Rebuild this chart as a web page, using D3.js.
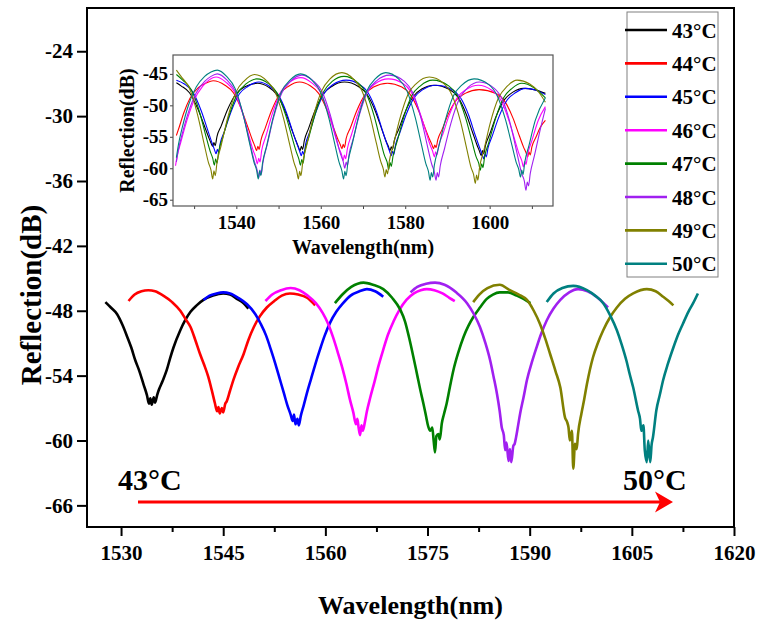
<!DOCTYPE html>
<html><head><meta charset="utf-8">
<script src="https://cdn.jsdelivr.net/npm/d3@7"></script>
<style>
body{margin:0;background:#fff}
.ax text{font-family:'Times New Roman','Liberation Serif',serif !important;font-weight:bold !important;fill:#000}
.ax.main text{font-size:21px !important}
.ax.ins text{font-size:19px !important}
</style>
</head><body>
<svg id="c" width="760" height="623"></svg>
<script>
const temps = ["43°C","44°C","45°C","46°C","47°C","48°C","49°C","50°C"];
const colors = ["#000000","#ff0000","#0000ff","#ff00ff","#008000","#a020f0","#808000","#008080"];
const xTicks = [1530,1545,1560,1575,1590,1605,1620];
const xMinor = [1537.5,1552.5,1567.5,1582.5,1597.5,1612.5];
const yTicks = [-66,-60,-54,-48,-42,-36,-30,-24];
const insetXTicks = [1540,1560,1580,1600];
const insetXMinor = [1530,1550,1570,1590,1610];
const insetYTicks = [-65,-60,-55,-50,-45];

// main panel: one excerpt of each spectrum
const main43 = [[1527.7,-47.2],[1528.5,-47.7],[1529.4,-48.3],[1530.2,-49.3],[1530.9,-50.4],[1531.5,-51.4],[1532.1,-52.6],[1532.7,-53.6],[1533.3,-54.8],[1533.8,-55.8],[1534.1,-56.6],[1534.3,-56.1],[1534.5,-56.7],[1534.8,-56.0],[1535.0,-56.5],[1535.3,-55.8],[1535.5,-55.4],[1536.1,-54.5],[1536.7,-53.5],[1537.2,-52.4],[1537.7,-51.4],[1538.7,-49.8],[1539.4,-48.9],[1540.2,-48.1],[1541.1,-47.5],[1542.1,-47.0],[1543.5,-46.6],[1545.0,-46.4],[1546.0,-46.5],[1547.0,-46.9],[1548.0,-47.3],[1548.7,-47.8]];
const main44 = [[1531.1,-47.1],[1532.0,-46.5],[1533.0,-46.2],[1534.0,-46.1],[1535.0,-46.2],[1536.2,-46.6],[1537.5,-47.2],[1538.7,-48.0],[1539.5,-48.8],[1540.2,-49.5],[1540.9,-50.7],[1541.6,-52.0],[1542.2,-53.0],[1542.8,-54.1],[1543.3,-55.3],[1543.8,-56.6],[1544.1,-57.3],[1544.3,-56.9],[1544.5,-57.5],[1544.8,-57.0],[1545.0,-57.4],[1545.3,-56.6],[1545.5,-56.4],[1546.0,-55.4],[1546.5,-54.4],[1547.2,-53.2],[1548.0,-52.0],[1548.7,-50.7],[1549.5,-49.5],[1550.4,-48.5],[1551.4,-47.7],[1552.5,-47.1],[1553.6,-46.6],[1554.8,-46.4],[1556.0,-46.5],[1557.3,-46.8],[1558.5,-47.5]];
const main45 = [[1542.1,-47.0],[1543.0,-46.6],[1544.0,-46.4],[1545.0,-46.3],[1546.0,-46.4],[1547.2,-46.8],[1548.5,-47.4],[1549.7,-48.3],[1550.5,-49.2],[1551.3,-50.3],[1552.0,-51.6],[1552.7,-53.0],[1553.3,-54.3],[1553.9,-55.6],[1554.4,-56.7],[1554.9,-57.6],[1555.2,-58.2],[1555.4,-57.6],[1555.6,-58.5],[1555.9,-58.0],[1556.1,-58.6],[1556.4,-57.7],[1556.8,-56.8],[1557.3,-55.6],[1557.9,-54.3],[1558.5,-53.0],[1559.2,-51.6],[1559.9,-50.3],[1560.7,-49.1],[1561.6,-48.1],[1562.6,-47.3],[1563.7,-46.6],[1565.0,-46.2],[1566.1,-46.0],[1567.3,-46.2],[1568.5,-46.7]];
const main46 = [[1551.2,-47.1],[1552.2,-46.5],[1553.5,-46.1],[1554.9,-45.9],[1556.2,-46.1],[1557.4,-46.6],[1558.6,-47.3],[1559.6,-48.2],[1560.4,-49.2],[1561.1,-50.4],[1561.8,-51.8],[1562.5,-53.3],[1563.1,-54.8],[1563.6,-56.2],[1564.1,-57.4],[1564.5,-58.5],[1564.7,-58.0],[1564.9,-58.9],[1565.1,-59.5],[1565.3,-58.6],[1565.5,-59.1],[1565.8,-58.3],[1566.1,-57.3],[1566.6,-56.0],[1567.2,-54.6],[1567.8,-53.1],[1568.5,-51.6],[1569.2,-50.2],[1570.0,-49.0],[1570.9,-47.9],[1571.9,-47.0],[1573.0,-46.4],[1574.0,-46.1],[1574.9,-46.0],[1576.0,-46.1],[1577.2,-46.4],[1578.2,-46.8],[1579.0,-47.1]];
const main47 = [[1561.4,-47.3],[1562.5,-46.5],[1563.8,-45.8],[1565.6,-45.4],[1567.0,-45.6],[1568.5,-46.0],[1569.8,-46.8],[1571.0,-47.9],[1571.7,-49.0],[1572.3,-50.5],[1572.9,-52.2],[1573.5,-54.0],[1574.0,-55.5],[1574.4,-56.6],[1574.8,-57.8],[1575.1,-58.7],[1575.4,-59.1],[1575.7,-58.8],[1575.9,-60.0],[1576.1,-61.1],[1576.3,-59.6],[1576.6,-59.4],[1576.8,-59.9],[1577.1,-58.4],[1577.4,-57.6],[1577.8,-56.6],[1578.3,-55.0],[1578.8,-53.5],[1579.5,-51.9],[1580.3,-50.4],[1581.0,-49.4],[1581.7,-48.6],[1582.7,-47.7],[1583.7,-46.9],[1584.6,-46.5],[1585.6,-46.3],[1586.8,-46.3],[1588.1,-46.6],[1589.1,-46.9],[1590.1,-47.3]];
const main48 = [[1572.5,-46.3],[1573.5,-45.8],[1574.8,-45.5],[1576.1,-45.4],[1577.5,-45.6],[1579.2,-46.3],[1580.8,-47.3],[1581.8,-48.3],[1582.7,-49.5],[1583.5,-51.0],[1584.2,-52.6],[1584.7,-54.1],[1585.2,-55.7],[1585.6,-57.3],[1585.9,-58.8],[1586.2,-59.5],[1586.4,-60.9],[1586.6,-60.2],[1586.9,-61.9],[1587.1,-60.8],[1587.3,-62.0],[1587.6,-60.5],[1587.8,-60.3],[1588.0,-59.7],[1588.3,-58.6],[1588.6,-57.5],[1589.1,-56.0],[1589.6,-54.4],[1590.3,-52.8],[1591.0,-51.4],[1591.7,-50.1],[1592.5,-48.9],[1593.5,-47.8],[1594.5,-47.0],[1595.8,-46.3],[1597.1,-46.0],[1598.5,-46.2],[1599.8,-46.7],[1600.7,-47.2],[1601.5,-47.7]];
const main49 = [[1581.7,-47.2],[1582.6,-46.5],[1583.8,-45.9],[1585.6,-45.6],[1587.1,-46.1],[1588.4,-46.5],[1589.6,-47.0],[1590.6,-48.0],[1591.5,-49.2],[1592.3,-50.6],[1593.0,-52.0],[1593.8,-53.6],[1594.5,-55.1],[1595.2,-57.9],[1595.5,-58.3],[1595.7,-58.8],[1595.9,-60.0],[1596.2,-59.1],[1596.4,-62.6],[1596.65,-60.3],[1596.9,-60.8],[1597.1,-59.4],[1597.6,-57.5],[1598.0,-56.2],[1598.4,-54.8],[1599.3,-52.3],[1600.0,-51.0],[1600.8,-49.8],[1601.8,-48.6],[1602.8,-47.7],[1604.0,-46.9],[1605.2,-46.4],[1607.2,-46.0],[1608.5,-46.2],[1609.6,-46.7],[1610.4,-47.1],[1611.1,-47.5]];
const main50 = [[1592.5,-47.2],[1593.5,-46.4],[1594.8,-45.9],[1596.4,-45.7],[1598.4,-46.1],[1599.6,-46.6],[1600.8,-47.3],[1601.8,-48.4],[1602.8,-49.8],[1603.5,-51.1],[1604.2,-52.6],[1604.7,-53.9],[1605.2,-55.1],[1605.9,-57.2],[1606.2,-58.0],[1606.4,-59.1],[1606.7,-58.6],[1606.9,-60.9],[1607.2,-62.0],[1607.4,-60.0],[1607.7,-62.0],[1607.9,-60.4],[1608.1,-59.7],[1608.6,-57.2],[1609.1,-55.8],[1609.6,-54.4],[1610.3,-52.9],[1611.1,-51.4],[1611.8,-50.2],[1612.5,-49.2],[1613.3,-48.1],[1614.0,-47.3],[1614.7,-46.4]];

// inset: full spectra
const inset43 = [[1525.8,-46.4],[1526.9,-46.9],[1528.9,-48.0],[1530.9,-50.6],[1532.4,-53.2],[1533.4,-55.0],[1534.0,-56.0],[1534.4,-56.5],[1534.7,-55.9],[1535.0,-56.4],[1535.4,-55.0],[1536.4,-53.3],[1537.9,-50.7],[1539.9,-48.2],[1541.9,-47.1],[1545.0,-46.5],[1547.6,-47.1],[1549.6,-48.3],[1551.6,-51.0],[1553.1,-53.8],[1554.1,-55.6],[1554.7,-56.6],[1555.1,-57.2],[1555.4,-56.5],[1555.7,-57.0],[1556.1,-55.6],[1557.1,-53.7],[1558.6,-50.9],[1560.6,-48.2],[1562.6,-47.0],[1565.6,-46.3],[1568.9,-47.0],[1570.9,-48.2],[1572.9,-50.9],[1574.4,-53.7],[1575.4,-55.6],[1576.0,-56.5],[1576.4,-57.2],[1576.7,-56.6],[1577.0,-57.0],[1577.4,-55.6],[1578.4,-53.9],[1579.9,-51.2],[1581.9,-48.6],[1583.9,-47.4],[1586.8,-46.8],[1590.5,-47.5],[1592.5,-48.7],[1594.5,-51.5],[1596.0,-54.4],[1597.0,-56.3],[1597.6,-57.3],[1598.0,-58.0],[1598.3,-57.2],[1598.6,-57.7],[1599.0,-56.4],[1600.0,-54.6],[1601.5,-51.8],[1603.5,-49.1],[1605.5,-47.9],[1608.0,-47.3],[1610.5,-47.5],[1613.2,-48.1]];
const inset44 = [[1525.8,-54.8],[1526.5,-53.4],[1527.5,-51.3],[1529.0,-48.9],[1531.0,-47.2],[1533.0,-46.4],[1534.5,-46.1],[1537.3,-46.8],[1539.3,-48.0],[1541.3,-50.8],[1542.8,-53.6],[1543.8,-55.5],[1544.4,-56.5],[1544.8,-57.2],[1545.1,-56.5],[1545.4,-57.0],[1545.8,-55.6],[1546.8,-53.7],[1548.3,-50.9],[1550.3,-48.2],[1552.3,-47.0],[1555.0,-46.3],[1557.5,-46.9],[1559.5,-48.1],[1561.5,-50.8],[1563.0,-53.5],[1564.0,-55.3],[1564.6,-56.2],[1565.0,-56.9],[1565.3,-56.2],[1565.6,-56.7],[1566.0,-55.3],[1567.0,-53.6],[1568.5,-50.9],[1570.5,-48.3],[1572.5,-47.1],[1575.8,-46.5],[1579.2,-47.1],[1581.2,-48.3],[1583.2,-50.9],[1584.7,-53.6],[1585.7,-55.3],[1586.3,-56.2],[1586.7,-56.9],[1587.0,-56.3],[1587.3,-56.7],[1587.7,-55.5],[1588.7,-53.9],[1590.2,-51.4],[1592.2,-49.1],[1594.2,-48.1],[1597.5,-47.5],[1601.5,-48.1],[1603.5,-49.3],[1605.5,-52.0],[1607.0,-54.8],[1608.0,-56.6],[1608.6,-57.5],[1609.0,-58.2],[1609.3,-57.4],[1609.6,-57.9],[1610.0,-56.6],[1611.0,-55.0],[1612.0,-53.5],[1613.2,-52.4]];
const inset45 = [[1525.8,-46.0],[1527.7,-46.6],[1529.7,-47.9],[1531.7,-50.9],[1533.2,-53.9],[1534.2,-55.9],[1534.8,-57.0],[1535.2,-57.7],[1535.5,-57.0],[1535.8,-57.5],[1536.2,-56.0],[1537.2,-54.1],[1538.7,-51.1],[1540.7,-48.2],[1542.7,-47.0],[1545.3,-46.3],[1547.9,-47.0],[1549.9,-48.3],[1551.9,-51.2],[1553.4,-54.3],[1554.4,-56.2],[1555.0,-57.3],[1555.4,-58.0],[1555.7,-57.3],[1556.0,-57.8],[1556.4,-56.2],[1557.4,-54.2],[1558.9,-51.0],[1560.9,-48.0],[1562.9,-46.7],[1566.0,-46.0],[1569.2,-46.7],[1571.2,-48.0],[1573.2,-51.0],[1574.7,-54.2],[1575.7,-56.2],[1576.3,-57.3],[1576.7,-58.0],[1577.0,-57.3],[1577.3,-57.8],[1577.7,-56.3],[1578.7,-54.4],[1580.2,-51.5],[1582.2,-48.7],[1584.2,-47.5],[1587.3,-46.8],[1591.1,-47.5],[1593.1,-48.8],[1595.1,-51.7],[1596.6,-54.8],[1597.6,-56.7],[1598.2,-57.8],[1598.6,-58.5],[1598.9,-57.7],[1599.2,-58.2],[1599.6,-56.8],[1600.6,-54.9],[1602.1,-52.0],[1604.1,-49.2],[1606.1,-48.0],[1608.5,-47.3],[1611.0,-47.6],[1613.2,-48.3]];
const inset46 = [[1525.6,-59.6],[1526.0,-58.0],[1526.8,-56.0],[1528.3,-52.4],[1530.0,-49.2],[1532.0,-47.0],[1533.5,-46.0],[1535.2,-45.5],[1537.5,-46.3],[1539.5,-47.8],[1541.5,-51.3],[1543.0,-54.9],[1544.0,-57.2],[1544.6,-58.3],[1545.0,-59.3],[1545.3,-58.4],[1545.6,-59.0],[1546.0,-57.2],[1547.0,-54.9],[1548.5,-51.4],[1550.5,-47.9],[1552.5,-46.4],[1555.3,-45.6],[1557.8,-46.4],[1559.8,-47.8],[1561.8,-51.1],[1563.3,-54.6],[1564.3,-56.8],[1564.9,-57.8],[1565.3,-58.8],[1565.6,-57.9],[1565.9,-58.5],[1566.3,-56.9],[1567.3,-54.6],[1568.8,-51.3],[1570.8,-48.0],[1572.8,-46.6],[1576.0,-45.8],[1579.4,-46.5],[1581.4,-47.9],[1583.4,-51.0],[1584.9,-54.2],[1585.9,-56.3],[1586.5,-57.3],[1586.9,-58.2],[1587.2,-57.4],[1587.5,-57.9],[1587.9,-56.5],[1588.9,-54.6],[1590.4,-51.6],[1592.4,-48.7],[1594.4,-47.5],[1597.3,-46.8],[1600.5,-47.6],[1602.5,-49.0],[1604.5,-52.3],[1606.0,-55.6],[1607.0,-57.8],[1607.6,-58.8],[1608.0,-59.8],[1608.3,-58.9],[1608.6,-59.4],[1609.0,-57.8],[1610.0,-55.6],[1611.5,-52.4],[1613.2,-50.2]];
const inset47 = [[1525.8,-45.1],[1527.3,-46.0],[1529.3,-47.5],[1531.3,-51.1],[1532.8,-54.9],[1533.8,-57.3],[1534.4,-58.4],[1534.8,-59.5],[1535.1,-58.5],[1535.4,-59.2],[1535.8,-57.4],[1536.8,-55.1],[1538.3,-51.6],[1540.3,-48.1],[1542.3,-46.6],[1544.8,-45.8],[1547.7,-46.6],[1549.7,-48.1],[1551.7,-51.6],[1553.2,-55.1],[1554.2,-57.4],[1554.8,-58.5],[1555.2,-59.5],[1555.5,-58.6],[1555.8,-59.2],[1556.2,-57.4],[1557.2,-55.0],[1558.7,-51.3],[1560.7,-47.8],[1562.7,-46.2],[1565.5,-45.4],[1568.6,-46.3],[1570.6,-47.9],[1572.6,-51.6],[1574.1,-55.5],[1575.1,-58.0],[1575.7,-59.0],[1576.1,-60.2],[1576.4,-59.1],[1576.7,-59.7],[1577.1,-58.1],[1578.1,-55.7],[1579.6,-52.0],[1581.6,-48.4],[1583.6,-46.9],[1586.5,-46.0],[1590.3,-46.9],[1592.3,-48.4],[1594.3,-52.0],[1595.8,-55.7],[1596.8,-58.2],[1597.4,-59.2],[1597.8,-60.3],[1598.1,-59.3],[1598.4,-59.9],[1598.8,-58.2],[1599.8,-55.9],[1601.3,-52.3],[1603.3,-48.8],[1605.3,-47.3],[1607.6,-46.5],[1610.5,-47.2],[1613.2,-48.8]];
const inset48 = [[1525.8,-59.0],[1526.3,-57.0],[1527.2,-54.5],[1528.7,-51.0],[1530.5,-48.0],[1532.5,-46.2],[1534.0,-45.4],[1535.5,-45.0],[1537.8,-46.0],[1539.8,-47.8],[1541.8,-51.9],[1543.3,-56.2],[1544.3,-59.0],[1544.9,-60.2],[1545.3,-61.5],[1545.6,-60.3],[1545.9,-61.0],[1546.3,-59.1],[1547.3,-56.3],[1548.8,-52.0],[1550.8,-48.0],[1552.8,-46.2],[1555.5,-45.2],[1558.2,-46.1],[1560.2,-47.7],[1562.2,-51.4],[1563.7,-55.3],[1564.7,-57.8],[1565.3,-58.9],[1565.7,-60.0],[1566.0,-59.0],[1566.3,-59.6],[1566.7,-57.8],[1567.7,-55.3],[1569.2,-51.4],[1571.2,-47.7],[1573.2,-46.1],[1576.3,-45.2],[1579.8,-46.2],[1581.8,-48.0],[1583.8,-52.2],[1585.3,-56.6],[1586.3,-59.4],[1586.9,-60.6],[1587.3,-61.9],[1587.6,-60.7],[1587.9,-61.4],[1588.3,-59.6],[1589.3,-56.9],[1590.8,-52.9],[1592.8,-49.0],[1594.8,-47.2],[1597.6,-46.3],[1601.1,-47.3],[1603.1,-49.2],[1605.1,-53.5],[1606.6,-58.0],[1607.6,-60.9],[1608.2,-62.0],[1608.6,-63.5],[1608.9,-62.2],[1609.2,-62.8],[1609.6,-60.9],[1610.6,-58.0],[1612.1,-53.5],[1613.2,-50.5]];
const inset49 = [[1525.8,-44.4],[1526.9,-45.4],[1528.9,-47.3],[1530.9,-51.7],[1532.4,-56.2],[1533.4,-59.1],[1534.0,-60.3],[1534.4,-61.7],[1534.7,-60.4],[1535.0,-61.2],[1535.4,-59.2],[1536.4,-56.4],[1537.9,-52.1],[1539.9,-47.9],[1541.9,-46.1],[1544.3,-45.1],[1547.2,-46.1],[1549.2,-47.9],[1551.2,-52.1],[1552.7,-56.4],[1553.7,-59.2],[1554.3,-60.4],[1554.7,-61.7],[1555.0,-60.5],[1555.3,-61.2],[1555.7,-59.2],[1556.7,-56.3],[1558.2,-51.9],[1560.2,-47.7],[1562.2,-45.8],[1565.0,-44.8],[1567.7,-45.8],[1569.7,-47.6],[1571.7,-51.8],[1573.2,-56.1],[1574.2,-58.9],[1574.8,-60.1],[1575.2,-61.4],[1575.5,-60.2],[1575.8,-60.9],[1576.2,-59.0],[1577.2,-56.3],[1578.7,-52.2],[1580.7,-48.2],[1582.7,-46.5],[1585.7,-45.5],[1589.1,-46.5],[1591.1,-48.4],[1593.1,-52.6],[1594.6,-57.0],[1595.6,-59.9],[1596.2,-61.0],[1596.6,-62.4],[1596.9,-61.1],[1597.2,-61.9],[1597.6,-59.9],[1598.6,-57.2],[1600.1,-52.9],[1602.1,-48.8],[1604.1,-47.0],[1606.5,-46.0],[1609.5,-46.6],[1611.5,-47.8],[1613.2,-49.5]];
const inset50 = [[1525.8,-58.3],[1526.3,-56.2],[1527.2,-53.5],[1528.7,-49.9],[1530.5,-47.1],[1532.5,-45.4],[1534.0,-44.7],[1535.5,-44.4],[1537.7,-45.4],[1539.7,-47.3],[1541.7,-51.7],[1543.2,-56.2],[1544.2,-59.1],[1544.8,-60.3],[1545.2,-61.7],[1545.5,-60.4],[1545.8,-61.2],[1546.2,-59.2],[1547.2,-56.4],[1548.7,-52.0],[1550.7,-47.8],[1552.7,-46.0],[1555.2,-45.0],[1557.9,-46.0],[1559.9,-47.8],[1561.9,-52.0],[1563.4,-56.4],[1564.4,-59.2],[1565.0,-60.4],[1565.4,-61.7],[1565.7,-60.5],[1566.0,-61.2],[1566.4,-59.2],[1567.4,-56.3],[1568.9,-51.9],[1570.9,-47.7],[1572.9,-45.8],[1575.4,-44.8],[1578.4,-45.8],[1580.4,-47.7],[1582.4,-52.0],[1583.9,-56.4],[1584.9,-59.3],[1585.5,-60.5],[1585.9,-61.9],[1586.2,-60.7],[1586.5,-61.4],[1586.9,-59.5],[1587.9,-56.7],[1589.4,-52.6],[1591.4,-48.5],[1593.4,-46.8],[1596.3,-45.8],[1599.8,-46.7],[1601.8,-48.5],[1603.8,-52.4],[1605.3,-56.4],[1606.3,-59.1],[1606.9,-60.2],[1607.3,-61.4],[1607.6,-60.3],[1607.9,-61.0],[1608.3,-59.1],[1609.3,-56.4],[1610.8,-52.4],[1613.2,-48.8]];

const mainSeries = [main43,main44,main45,main46,main47,main48,main49,main50];
const insetSeries = [inset43,inset44,inset45,inset46,inset47,inset48,inset49,inset50];

const FONT = "'Times New Roman','Liberation Serif',serif";
const svg = d3.select("#c");
svg.append("rect").attr("width",760).attr("height",623).attr("fill","#fff");

// ---------- main panel ----------
const M = {l:87, r:734, t:8, b:527};
const x = d3.scaleLinear().domain([1525,1620]).range([M.l,M.r]);
const y = d3.scaleLinear().domain([-68,-20]).range([M.b,M.t]);

function styleAxis(g, size, col, sw){
  g.attr("font-family",FONT).attr("font-weight","bold").attr("font-size",size);
  g.selectAll("path.domain").remove();
  g.selectAll("line").attr("stroke",col).attr("stroke-width",sw);
  g.selectAll("text").attr("font-family",FONT).attr("font-weight","bold").attr("font-size",size).attr("fill","#000");
}
const gx = svg.append("g").attr("class","ax main").attr("transform",`translate(0,${M.b})`)
  .call(d3.axisBottom(x).tickValues(xTicks).tickSize(9).tickPadding(9).tickFormat(d3.format("d")));
styleAxis(gx,21,"#000",2);
const gxm = svg.append("g").attr("class","ax main").attr("transform",`translate(0,${M.b})`)
  .call(d3.axisBottom(x).tickValues(xMinor).tickSize(5).tickFormat(""));
styleAxis(gxm,21,"#000",2);
const gy = svg.append("g").attr("class","ax main").attr("transform",`translate(${M.l},0)`)
  .call(d3.axisLeft(y).tickValues(yTicks).tickSize(10).tickPadding(4).tickFormat(d=>String(d)));
styleAxis(gy,21,"#000",2);

const lineMain = d3.line().x(d=>x(d[0])).y(d=>y(d[1])).curve(d3.curveMonotoneX);
svg.append("g").selectAll("path").data(mainSeries).join("path")
  .attr("d",lineMain).attr("fill","none")
  .attr("stroke",(d,i)=>colors[i]).attr("stroke-width",2.6).attr("stroke-linejoin","round");

svg.append("rect").attr("x",M.l).attr("y",M.t).attr("width",M.r-M.l).attr("height",M.b-M.t)
  .attr("fill","none").attr("stroke","#000").attr("stroke-width",2);

svg.append("text").attr("x",(M.l+M.r)/2).attr("y",614).attr("text-anchor","middle")
  .style("font-family",FONT).style("font-weight","bold").style("font-size","26px").text("Wavelength(nm)");
svg.append("text").attr("transform","translate(41,295) rotate(-90)").attr("text-anchor","middle")
  .style("font-family",FONT).style("font-weight","bold").style("font-size","29px").text("Reflection(dB)");

// ---------- annotations ----------
svg.append("text").attr("x",118).attr("y",490).style("font-family",FONT).style("font-weight","bold")
  .style("font-size","30px").text(temps[0]);
svg.append("text").attr("x",623).attr("y",490).style("font-family",FONT).style("font-weight","bold")
  .style("font-size","30px").text(temps[temps.length-1]);
svg.append("line").attr("x1",138).attr("x2",661).attr("y1",502).attr("y2",502)
  .attr("stroke","#ff0000").attr("stroke-width",3);
svg.append("path").attr("d","M673,502 L655,491.5 L660,502 L655,512.5 Z").attr("fill","#ff0000");

// ---------- legend ----------
const lg = svg.append("g");
lg.append("rect").attr("x",627).attr("y",12).attr("width",91).attr("height",265)
  .attr("fill","#fff").attr("stroke","#808080").attr("stroke-width",1);
const li = lg.selectAll("g.it").data(temps).join("g").attr("class","it")
  .attr("transform",(d,i)=>`translate(0,${30+i*33.4})`);
li.append("line").attr("x1",625).attr("x2",667).attr("y1",0).attr("y2",0)
  .attr("stroke",(d,i)=>colors[i]).attr("stroke-width",2.6);
li.append("text").attr("x",672).attr("y",7.5).style("font-family",FONT).style("font-weight","bold")
  .style("font-size","21px").text(d=>d);

// ---------- inset ----------
const I = {l:173, r:553, t:55, b:206};
const xi = d3.scaleLinear().domain([1525,1615]).range([I.l,I.r]);
const yi = d3.scaleLinear().domain([-66,-42]).range([I.b,I.t]);
const ix = svg.append("g").attr("class","ax ins").attr("transform",`translate(0,${I.b})`)
  .call(d3.axisBottom(xi).tickValues(insetXTicks).tickSize(3).tickPadding(7).tickFormat(d3.format("d")));
styleAxis(ix,19,"#444",1);
const ixm = svg.append("g").attr("class","ax ins").attr("transform",`translate(0,${I.b})`)
  .call(d3.axisBottom(xi).tickValues(insetXMinor).tickSize(3).tickFormat(""));
styleAxis(ixm,19,"#444",1);
const iy = svg.append("g").attr("class","ax ins").attr("transform",`translate(${I.l},0)`)
  .call(d3.axisLeft(yi).tickValues(insetYTicks).tickSize(3).tickPadding(2).tickFormat(d=>String(d)));
styleAxis(iy,19,"#444",1);

const lineInset = d3.line().x(d=>xi(d[0])).y(d=>yi(d[1])).curve(d3.curveMonotoneX);
svg.append("g").selectAll("path").data(insetSeries).join("path")
  .attr("d",lineInset).attr("fill","none")
  .attr("stroke",(d,i)=>colors[i]).attr("stroke-width",1.1).attr("stroke-linejoin","round");

svg.append("rect").attr("x",I.l).attr("y",I.t).attr("width",I.r-I.l).attr("height",I.b-I.t)
  .attr("fill","none").attr("stroke","#555").attr("stroke-width",1.2);

svg.append("text").attr("x",(I.l+I.r)/2).attr("y",254).attr("text-anchor","middle")
  .style("font-family",FONT).style("font-weight","bold").style("font-size","20px").text("Wavelength(nm)");
svg.append("text").attr("transform",`translate(134,${(I.t+I.b)/2}) rotate(-90)`).attr("text-anchor","middle")
  .style("font-family",FONT).style("font-weight","bold").style("font-size","20px").text("Reflection(dB)");
</script>
</body></html>
